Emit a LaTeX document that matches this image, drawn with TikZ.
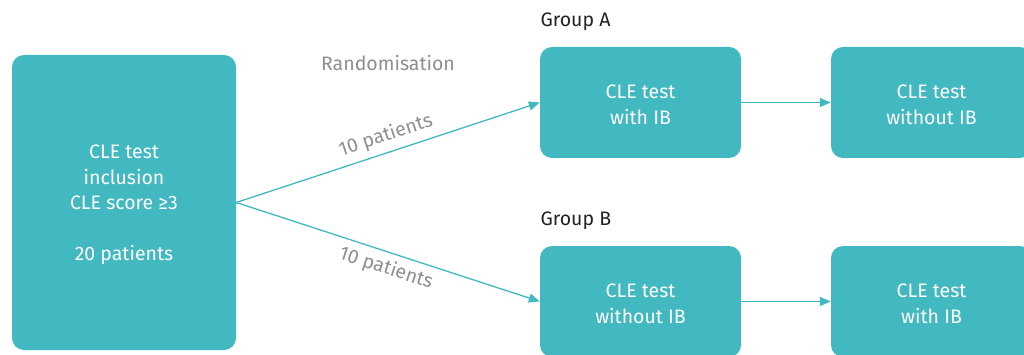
\documentclass[tikz,border=0pt]{standalone}
\usepackage{fontspec}
\setmainfont{Fira Sans}
\usetikzlibrary{arrows.meta}
\definecolor{teal1}{HTML}{42B8C0}
\definecolor{graytxt}{HTML}{8E8E8E}
\definecolor{darktxt}{HTML}{222222}
\tikzset{
  box/.style={draw=none, fill=teal1, rounded corners=12pt, inner sep=0pt},
  boxtxt/.style={text=white, align=center, font=\fontsize{19.5}{25.5}\selectfont,
    inner sep=0pt, yshift=-2.5pt},
  conn/.style={draw=teal1, line width=1.3pt, -{Triangle[length=11pt,width=9pt]}},
  lbl/.style={text=graytxt, font=\fontsize{19.5}{22}\selectfont},
  grp/.style={text=darktxt, font=\fontsize{19.5}{22}\selectfont, anchor=west},
}
\begin{document}
\begin{tikzpicture}[x=1pt,y=-1pt]
\useasboundingbox (0,0) rectangle (1024,355);
\node[box, minimum width=224pt, minimum height=295pt,
  label={[boxtxt, name=Lt]center:{CLE test\\inclusion\\CLE score ≥3\\[25.5pt]20 patients}}] (L) at (124,202.5) {};
\node[box, minimum width=201pt, minimum height=111pt,
  label={[boxtxt, name=A1t]center:{CLE test\\with IB}}] (A1) at (640.5,102.5) {};
\node[box, minimum width=201pt, minimum height=111pt,
  label={[boxtxt, name=A2t]center:{CLE test\\without IB}}] (A2) at (931.5,102.5) {};
\node[box, minimum width=201pt, minimum height=111pt,
  label={[boxtxt, name=B1t]center:{CLE test\\without IB}}] (B1) at (640.5,301.5) {};
\node[box, minimum width=201pt, minimum height=111pt,
  label={[boxtxt, name=B2t]center:{CLE test\\with IB}}] (B2) at (931.5,301.5) {};
\node[lbl] (rand) at (388,63) {Randomisation};
\node[grp] (ga) at (537,22) {Group A};
\node[grp] (gb) at (537,221) {Group B};
\draw[conn] (L.east) -- node[lbl, sloped, above=3pt, pos=0.51] (p1) {10 patients} (A1.west);
\draw[conn] (L.east) -- node[lbl, sloped, below=2.5pt, pos=0.51] (p2) {10 patients} (B1.west);
\draw[conn] (A1.east) -- (A2.west);
\draw[conn] (B1.east) -- (B2.west);
\end{tikzpicture}
\end{document}
